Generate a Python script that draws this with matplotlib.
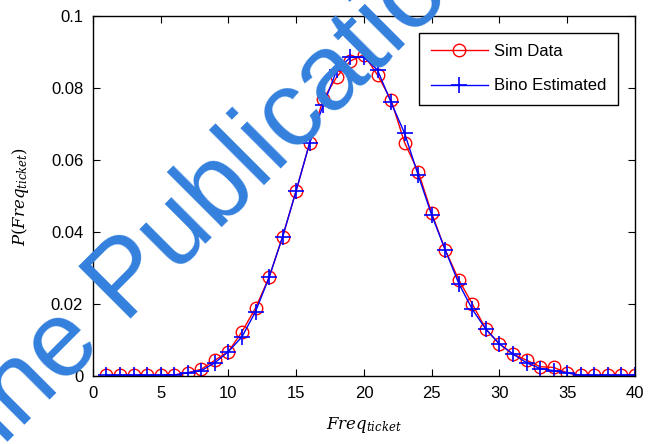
import numpy as np
import matplotlib.pyplot as plt

# values
freq = np.arange(1, 41)
sim_data = [0.0002, 0.0002, 0.0002, 0.0002, 0.0002, 0.0003, 0.0009, 0.0019, 0.0044, 0.0068,
            0.0123, 0.0189, 0.0274, 0.0387, 0.0515, 0.0648, 0.0769, 0.0831, 0.0875, 0.0893,
            0.0836, 0.0767, 0.0648, 0.0568, 0.0452, 0.0350, 0.0267, 0.0200, 0.0130, 0.0089,
            0.0061, 0.0044, 0.0026, 0.0024, 0.0009, 0.0002, 0.0002, 0.0002, 0.0002, 0.0002]
bino_est = [0.0002, 0.0002, 0.0002, 0.0002, 0.0002, 0.0003, 0.0009, 0.0015, 0.0037, 0.0068,
            0.0109, 0.0179, 0.0274, 0.0387, 0.0515, 0.0648, 0.0753, 0.0850, 0.0885, 0.0885,
            0.0850, 0.0760, 0.0674, 0.0558, 0.0447, 0.0350, 0.0257, 0.0185, 0.0130, 0.0089,
            0.0061, 0.0037, 0.0021, 0.0015, 0.0009, 0.0002, 0.0002, 0.0002, 0.0002, 0.0002]
xticks = [0, 5, 10, 15, 20, 25, 30, 35, 40]
yticks = [0, 0.02, 0.04, 0.06, 0.08, 0.1]
ytick_labels = ['0', '0.02', '0.04', '0.06', '0.08', '0.1']

plt.rcParams['font.family'] = ['Liberation Sans', 'DejaVu Sans']
plt.rcParams['mathtext.fontset'] = 'dejavuserif'

fig = plt.figure(figsize=(6.54, 4.44), dpi=100)
ax = fig.add_axes([0.142, 0.153, 0.829, 0.811])

ax.plot(freq, sim_data, color='red', marker='o', markersize=9, markerfacecolor='none',
        markeredgewidth=1, linewidth=1, label='Sim Data')
ax.plot(freq, bino_est, color='blue', marker='+', markersize=12, markeredgewidth=1.2,
        linewidth=1, label='Bino Estimated')

ax.set_xlim(0, 40)
ax.set_ylim(0, 0.1)
ax.set_xticks(xticks)
ax.set_yticks(yticks)
ax.set_yticklabels(ytick_labels)
ax.tick_params(direction='in', top=True, right=True, length=5, labelsize=12, pad=7)
for s in ax.spines.values():
    s.set_linewidth(1)

ax.set_xlabel(r'$Freq_{ticket}$', fontsize=12, labelpad=10)
ax.set_ylabel(r'$P(Freq_{ticket})$', fontsize=12, labelpad=14)

leg = ax.legend(loc='upper right', fontsize=12, fancybox=False, edgecolor='black',
                framealpha=1, borderaxespad=1.0, handlelength=3.4, handletextpad=0.4,
                labelspacing=1.15, borderpad=0.7)
leg.get_frame().set_linewidth(1)

# watermark over the plot
fig.text(0.291, 0.416, 'Online Publication', fontsize=77, color='#3380dd',
         rotation=45, rotation_mode='anchor', ha='center', va='baseline', zorder=10)

fig.savefig('out.png', dpi=100)
